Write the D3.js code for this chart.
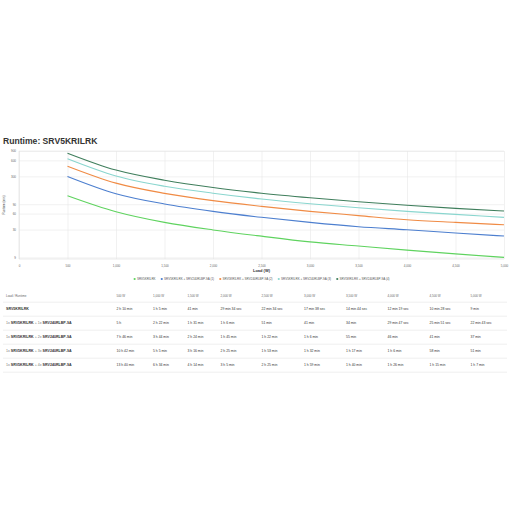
<!DOCTYPE html>
<meta charset="utf-8">
<head>
    <script src="https://d3js.org/d3.v7.min.js"></script>
    <style>
        body { margin: 0; background: #fff; }
        text { font-family: "Liberation Sans", Arial, sans-serif; }
    </style>
</head>
<body>
<div id="my_dataviz"></div>
</body>

<script>

    // load points (W) and axis ticks
    var loads = [500, 1000, 1500, 2000, 2500, 3000, 3500, 4000, 4500, 5000];
    var xTicks = [0, 500, 1000, 1500, 2000, 2500, 3000, 3500, 4000, 4500, 5000];
    var yTicks = [9, 30, 60, 90, 300, 600, 900];

    // series names (legend) and battery pack count per row of the table
    var seriesNames = ["SRV5KRILRK",
        "SRV5KRILRK + SRV240RLBP-9A (1)",
        "SRV5KRILRK + SRV240RLBP-9A (2)",
        "SRV5KRILRK + SRV240RLBP-9A (3)",
        "SRV5KRILRK + SRV240RLBP-9A (4)"];
    var packCounts = [0, 1, 2, 3, 4];

    // runtime in seconds
    var rt0 = [7800, 3900, 2460, 1774, 1354, 1058, 884, 739, 628, 540];
    var rt1 = [18000, 8520, 5460, 3960, 3060, 2460, 2040, 1787, 1551, 1363];
    var rt2 = [27960, 13440, 8640, 6300, 4920, 3960, 3300, 2760, 2460, 2220];
    var rt3 = [38520, 18300, 11760, 8700, 6780, 5520, 4620, 3960, 3480, 3060];
    var rt4 = [49200, 23640, 15240, 11100, 8700, 7140, 6000, 5160, 4500, 4020];
    var runtimes = [rt0, rt1, rt2, rt3, rt4];

    var colors = ["#5fd35f", "#4d7fcf", "#f08b45", "#8ad6cf", "#3f7e5c"];

    var svg = d3.select("#my_dataviz")
        .append("svg")
        .attr("width", 510)
        .attr("height", 510);

    // title
    svg.append("text")
        .attr("x", 3)
        .attr("y", 143.5)
        .text("Runtime: SRV5KRILRK")
        .style("font-size", "8.6px")
        .style("font-weight", "bold")
        .style("fill", "#333");

    // plot area
    var plot = {left: 19, right: 504, top: 151, bottom: 259};

    var x = d3.scaleLinear()
        .domain([0, 5000])
        .range([plot.left, plot.right]);

    var y = d3.scaleLog()
        .domain([8.4, 900])
        .range([plot.bottom, plot.top]);

    // grid
    var gx = svg.append("g")
        .attr("transform", "translate(0," + plot.bottom + ")")
        .call(d3.axisBottom(x).tickValues(xTicks)
            .tickSize(-(plot.bottom - plot.top))
            .tickFormat(d3.format(",")));
    gx.select(".domain").remove();
    gx.selectAll("line").attr("stroke", "#e8e8e8").attr("stroke-width", 0.6);
    gx.selectAll("text")
        .attr("y", 6)
        .style("font-size", "3px")
        .style("fill", "#666");

    var gy = svg.append("g")
        .attr("transform", "translate(" + plot.left + ",0)")
        .call(d3.axisLeft(y).tickValues(yTicks)
            .tickSize(-(plot.right - plot.left))
            .tickFormat(d3.format("d")));
    gy.select(".domain").remove();
    gy.selectAll("line").attr("stroke", "#e8e8e8").attr("stroke-width", 0.6);
    gy.selectAll("text")
        .attr("x", -3)
        .style("font-size", "3px")
        .style("fill", "#666");

    // baseline + top border
    svg.append("line")
        .attr("x1", plot.left).attr("x2", plot.right)
        .attr("y1", plot.bottom).attr("y2", plot.bottom)
        .attr("stroke", "#ddd").attr("stroke-width", 0.6);
    svg.append("line")
        .attr("x1", plot.left).attr("x2", plot.right)
        .attr("y1", plot.top).attr("y2", plot.top)
        .attr("stroke", "#e8e8e8").attr("stroke-width", 0.6);
    svg.append("line")
        .attr("x1", plot.left).attr("x2", plot.left)
        .attr("y1", plot.top).attr("y2", plot.bottom)
        .attr("stroke", "#ddd").attr("stroke-width", 0.6);

    // axis titles
    svg.append("text")
        .attr("transform", "translate(5," + ((plot.top + plot.bottom) / 2) + ") rotate(-90)")
        .attr("text-anchor", "middle")
        .text("Runtime (min)")
        .style("font-size", "3px")
        .style("fill", "#444");

    svg.append("text")
        .attr("x", (plot.left + plot.right) / 2)
        .attr("y", 272)
        .attr("text-anchor", "middle")
        .text("Load (W)")
        .style("font-size", "4px")
        .style("font-weight", "bold")
        .style("fill", "#333");

    // lines
    var line = d3.line()
        .x(function(d, i) { return x(loads[i]); })
        .y(function(d) { return y(d / 60); })
        .curve(d3.curveMonotoneX);

    svg.append("g")
        .selectAll("path")
        .data(runtimes)
        .enter().append("path")
        .attr("d", line)
        .attr("fill", "none")
        .attr("stroke", function(d, i) { return colors[i]; })
        .attr("stroke-width", 1.1);

    // legend (centered under the plot)
    var legend = svg.append("g");
    var lx = 0;
    seriesNames.forEach(function(name, i) {
        var item = legend.append("g").attr("transform", "translate(" + lx + ",0)");
        item.append("circle")
            .attr("cx", 1.2).attr("cy", -1)
            .attr("r", 1.1)
            .attr("fill", colors[i]);
        var t = item.append("text")
            .attr("x", 3.5)
            .text(name)
            .style("font-size", "3px")
            .style("fill", "#555");
        lx += 3.5 + t.node().getComputedTextLength() + 5;
    });
    legend.attr("transform", "translate(" + ((plot.left + plot.right) / 2 - (lx - 5) / 2) + ",280)");

    // runtime table
    function fmt(s) {
        var h = Math.floor(s / 3600), m = Math.floor((s % 3600) / 60), sec = s % 60;
        if (h > 0) return h + " h" + (m ? " " + m + " min" : "");
        return m + " min" + (sec ? " " + sec + " sec" : "");
    }

    var colX = [116.5, 153, 187.5, 220.5, 261.5, 304, 346, 387.5, 429.5, 470.5];
    var rowY = function(i) { return 309 + i * 14; };

    var table = svg.append("g");

    table.append("text")
        .attr("x", 6).attr("y", 296.5)
        .text("Load / Runtime")
        .style("font-size", "3px")
        .style("fill", "#666");

    table.selectAll(".hdr")
        .data(loads)
        .enter().append("text")
        .attr("x", function(d, i) { return colX[i]; })
        .attr("y", 296.5)
        .text(function(d) { return d3.format(",")(d) + " W"; })
        .style("font-size", "3px")
        .style("fill", "#666");

    // separators
    table.selectAll(".sep")
        .data(d3.range(6))
        .enter().append("line")
        .attr("x1", 3).attr("x2", 507)
        .attr("y1", function(d) { return rowY(d) - 6.8; })
        .attr("y2", function(d) { return rowY(d) - 6.8; })
        .attr("stroke", "#ececec")
        .attr("stroke-width", 0.8);

    runtimes.forEach(function(row, r) {
        var label = table.append("text")
            .attr("x", 6)
            .attr("y", rowY(r) + 1.2)
            .style("font-size", "3.6px");
        if (packCounts[r] === 0) {
            label.append("tspan").text("SRV5KRILRK").style("font-weight", "bold").style("fill", "#333");
        } else {
            label.append("tspan").text("1x ").style("fill", "#777");
            label.append("tspan").text("SRV5KRILRK").style("font-weight", "bold").style("fill", "#333");
            label.append("tspan").text(" + " + packCounts[r] + "x ").style("fill", "#777");
            label.append("tspan").text("SRV240RLBP-9A").style("font-weight", "bold").style("fill", "#333");
        }

        table.selectAll(".cell" + r)
            .data(row)
            .enter().append("text")
            .attr("x", function(d, i) { return colX[i]; })
            .attr("y", rowY(r) + 1.2)
            .text(function(d) { return fmt(d); })
            .style("font-size", "3.4px")
            .style("fill", "#333");
    });

</script>
